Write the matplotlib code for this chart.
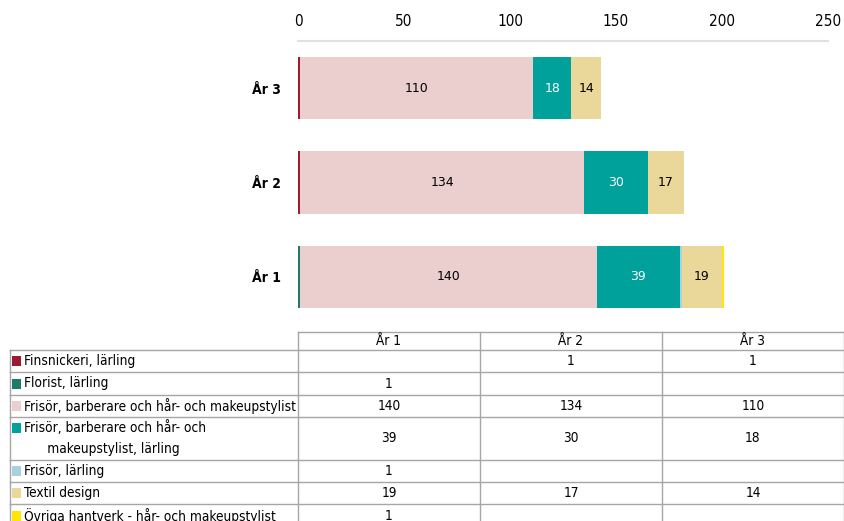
import matplotlib
matplotlib.use("Agg")
from matplotlib import pyplot as plt
from matplotlib.patches import Rectangle

years = ['År 1', 'År 2', 'År 3']
programs = ['Finsnickeri, lärling',
            'Florist, lärling',
            'Frisör, barberare och hår- och makeupstylist',
            'Frisör, barberare och hår- och\n      makeupstylist, lärling',
            'Frisör, lärling',
            'Textil design',
            'Övriga hantverk - hår- och makeupstylist']
finsnickeri = [0, 1, 1]
florist = [1, 0, 0]
frisor = [140, 134, 110]
frisor_larling_bm = [39, 30, 18]
frisor_larling = [1, 0, 0]
textil = [19, 17, 14]
ovriga = [1, 0, 0]
series = [finsnickeri, florist, frisor, frisor_larling_bm, frisor_larling, textil, ovriga]
colors = ['#9b1b30', '#1e7b6b', '#ebcfcf', '#00a19a', '#a8d1e0', '#ead79a', '#ffe600']
label_colors = ['black', 'white', 'black', 'white', 'black', 'black', 'black']
xticks = [0, 50, 100, 150, 200, 250]

narrow = dict(family='DejaVu Sans', stretch='condensed')
W, H = 845, 521
fig = plt.figure(figsize=(W / 100, H / 100), dpi=100)

# bar chart
ax = fig.add_axes([298 / W, 1 - 324 / H, 530 / W, (324 - 41) / H])
ypos = [2, 1, 0]  # År 1 at bottom
left = [0, 0, 0]
for vals, c, lc in zip(series, colors, label_colors):
    bars = ax.barh(ypos, vals, left=left, height=0.66, color=c, linewidth=0)
    for b, v, l in zip(bars, vals, left):
        if v >= 10:
            ax.text(l + v / 2, b.get_y() + b.get_height() / 2, str(v),
                    ha='center', va='center', fontsize=9, color=lc)
    left = [a + b for a, b in zip(left, vals)]

ax.set_xlim(0, 250)
ax.set_ylim(-0.5, 2.5)
ax.invert_yaxis()
ax.set_yticks(ypos)
ax.set_yticklabels(years, fontsize=10, fontweight='semibold', **narrow)
ax.set_xticks(xticks)
ax.set_xticklabels([str(t) for t in xticks], fontsize=11, **narrow)
ax.xaxis.tick_top()
ax.tick_params(axis='both', length=0)
ax.tick_params(axis='x', pad=9)
ax.tick_params(axis='y', pad=12)
for s in ['left', 'right', 'bottom']:
    ax.spines[s].set_visible(False)
ax.spines['top'].set_color('#e0e0e0')
ax.spines['top'].set_linewidth(1.5)

# data table below
tx = fig.add_axes([0, 0, 1, 1])
tx.set_xlim(0, W)
tx.set_ylim(H, 0)
tx.axis('off')
col_x = [10, 298, 480, 662, 844]
row_y = [332, 350, 372, 395, 417, 460, 482, 504, 528]
grid = '#a6a6a6'

# header row
tx.plot([298, 844], [332, 332], color=grid, lw=1)
for i, y in enumerate(years):
    tx.plot([col_x[i + 1]] * 2, [332, 350], color=grid, lw=1)
    tx.text((col_x[i + 1] + col_x[i + 2]) / 2, 341, y, ha='center', va='center',
            fontsize=9.8, **narrow)
tx.plot([844, 844], [332, 528], color=grid, lw=1)

for r, (name, vals, c) in enumerate(zip(programs, series, colors)):
    y0, y1 = row_y[r + 1], row_y[r + 2]
    tx.plot([10, 844], [y0, y0], color=grid, lw=1)
    for x in col_x[:-1]:
        tx.plot([x, x], [y0, y1], color=grid, lw=1)
    lines = name.split('\n')
    ytop = (y0 + y1) / 2 if len(lines) == 1 else y0 + 11
    tx.add_patch(Rectangle((12, ytop - 5), 9, 10, color=c, lw=0))
    tx.text(24, (y0 + y1) / 2 if len(lines) == 1 else (y0 + y1) / 2 - 0.5, name,
            ha='left', va='center', fontsize=9.8, linespacing=1.55, **narrow)
    for i, v in enumerate(vals):
        if v:
            tx.text((col_x[i + 1] + col_x[i + 2]) / 2, (y0 + y1) / 2, str(v),
                    ha='center', va='center', fontsize=9.8, **narrow)

fig.savefig('out.png', dpi=100)
